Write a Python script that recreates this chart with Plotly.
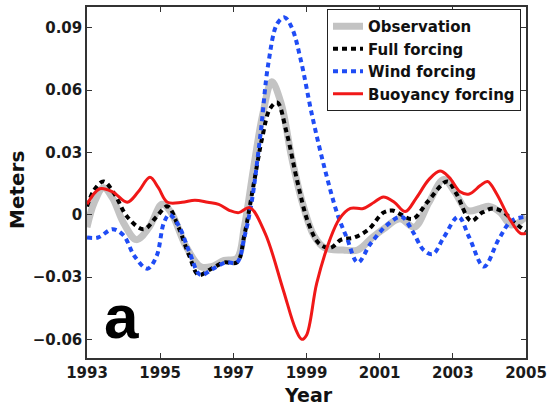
import plotly.graph_objects as go

# Sea level anomaly (m), 1993-2005
obs_year = [1993.0, 1993.2, 1993.45, 1993.7, 1994.0, 1994.35, 1994.7, 1995.05, 1995.3,
            1995.7, 1996.1, 1996.4, 1996.75, 1997.1, 1997.3, 1997.55, 1997.8, 1998.05,
            1998.3, 1998.6, 1998.9, 1999.2, 1999.5, 2000.0, 2000.4, 2000.8, 2001.1,
            2001.55, 2001.95, 2002.35, 2002.75, 2003.05, 2003.4, 2003.75, 2004.0,
            2004.3, 2004.6, 2005.0]
obs_val = [-0.006, 0.006, 0.013, 0.008, -0.004, -0.012, -0.006, 0.005, 0.001,
           -0.015, -0.025, -0.025, -0.022, -0.021, -0.006, 0.022, 0.048, 0.064,
           0.054, 0.027, 0.005, -0.010, -0.016, -0.017, -0.017, -0.011, -0.007,
           -0.002, -0.006, 0.006, 0.017, 0.011, 0.002, 0.003, 0.004,
           0.001, -0.005, -0.001]

full_year = [1993.0, 1993.2, 1993.45, 1993.75, 1994.1, 1994.55, 1994.9, 1995.2, 1995.5,
             1995.8, 1996.05, 1996.4, 1996.75, 1997.1, 1997.3, 1997.55, 1997.8, 1998.0,
             1998.2, 1998.45, 1998.75, 1999.05, 1999.35, 1999.65, 1999.95, 2000.3,
             2000.7, 2001.1, 2001.35, 2001.9, 2002.3, 2002.85, 2003.1, 2003.5, 2003.8,
             2004.1, 2004.4, 2004.7, 2005.0]
full_val = [0.004, 0.012, 0.016, 0.010, -0.001, -0.007, -0.001, 0.004, -0.006,
            -0.020, -0.029, -0.026, -0.023, -0.023, -0.010, 0.014, 0.038, 0.051,
            0.054, 0.040, 0.016, -0.004, -0.014, -0.016, -0.012, -0.011,
            -0.007, 0.001, 0.002, -0.002, 0.006, 0.016, 0.010, -0.003, 0.001,
            0.003, 0.001, -0.004, -0.008]

wind_year = [1993.0, 1993.3, 1993.7, 1994.0, 1994.3, 1994.65, 1994.9, 1995.1, 1995.25,
             1995.5, 1995.8, 1996.1, 1996.45, 1996.8, 1997.1, 1997.3, 1997.5, 1997.75,
             1997.95, 1998.2, 1998.4, 1998.6, 1998.85, 1999.15, 1999.5, 1999.85,
             2000.1, 2000.4, 2000.75, 2001.2, 2001.6, 2001.9, 2002.2, 2002.45,
             2002.75, 2003.15, 2003.45, 2003.85, 2004.25, 2004.6, 2005.0]
wind_val = [-0.011, -0.011, -0.007, -0.010, -0.020, -0.026, -0.020, -0.004, 0.000,
            -0.005, -0.018, -0.029, -0.026, -0.023, -0.023, -0.011, 0.006, 0.040,
            0.072, 0.092, 0.095, 0.090, 0.074, 0.048, 0.022, 0.000,
            -0.011, -0.023, -0.014, -0.005, -0.001, -0.008, -0.017, -0.019,
            -0.011, -0.001, -0.011, -0.025, -0.012, -0.003, -0.001]

buoy_year = [1993.0, 1993.35, 1993.7, 1994.1, 1994.4, 1994.72, 1994.95, 1995.2, 1995.6,
             1995.95, 1996.3, 1996.6, 1996.9, 1997.15, 1997.45, 1997.87, 1998.36,
             1998.7, 1998.87, 1999.0, 1999.28, 1999.64, 1999.9, 2000.2, 2000.55,
             2000.85, 2001.1, 2001.4, 2001.7, 2002.0, 2002.35, 2002.65, 2002.9,
             2003.2, 2003.45, 2003.75, 2003.95, 2004.2, 2004.55, 2004.85, 2005.0]
buoy_val = [0.005, 0.0125, 0.011, 0.006, 0.011, 0.018, 0.013, 0.006, 0.006,
            0.007, 0.006, 0.005, 0.002, 0.001, 0.0034, -0.009, -0.036,
            -0.055, -0.060, -0.058, -0.033, -0.012, -0.002, 0.003, 0.003,
            0.006, 0.0085, 0.006, 0.0015, 0.008, 0.017, 0.021, 0.018,
            0.011, 0.010, 0.014, 0.016, 0.010, -0.002, -0.009, -0.009]

x_ticks = [1993, 1995, 1997, 1999, 2001, 2003, 2005]
x_tick_text = ["1993", "1995", "1997", "1999", "2001", "2003", "2005"]
y_ticks = [-0.06, -0.03, 0, 0.03, 0.06, 0.09]
y_tick_text = ["\u22120.06", "\u22120.03", "0", "0.03", "0.06", "0.09"]

FONT = "DejaVu Sans"
W, H = 548, 408
ML, MR, MT, MB = 87, 22, 7, 50
PW, PH = W - ML - MR, H - MT - MB

fig = go.Figure()
fig.add_trace(go.Scatter(x=obs_year, y=obs_val, name="Observation", mode="lines",
                         line=dict(color="#c3c3c3", width=7, shape="spline", smoothing=1)))
fig.add_trace(go.Scatter(x=full_year, y=full_val, name="Full forcing", mode="lines",
                         line=dict(color="#000000", width=4, dash="5px,4px",
                                   shape="spline", smoothing=1)))
fig.add_trace(go.Scatter(x=wind_year, y=wind_val, name="Wind forcing", mode="lines",
                         line=dict(color="#1f4cf5", width=4, dash="5px,4px",
                                   shape="spline", smoothing=1)))
fig.add_trace(go.Scatter(x=buoy_year, y=buoy_val, name="Buoyancy forcing", mode="lines",
                         line=dict(color="#f01818", width=3, shape="spline", smoothing=1)))

axis_common = dict(
    showline=True, linecolor="#333333", linewidth=1.5, mirror="allticks",
    ticks="inside", ticklen=5, tickwidth=1, tickcolor="#333333",
    showgrid=False, zeroline=False, automargin=False,
    tickfont=dict(family=FONT, size=15, color="#1a1a1a", weight="bold"),
)

fig.update_xaxes(range=[1993, 2005], tickvals=x_ticks, ticktext=x_tick_text,
                 **axis_common)
fig.update_yaxes(range=[-0.069, 0.1], tickvals=y_ticks, ticktext=y_tick_text,
                 **axis_common)


def px_to_paper(px, py):
    return (px - ML) / PW, (H - MB - py) / PH


title_font = dict(family=FONT, size=19, color="#111111", weight="bold")

# Axis titles
xx, xy = px_to_paper(308, 395)
fig.add_annotation(text="Year", xref="paper", yref="paper", x=xx, y=xy,
                   showarrow=False, xanchor="center", yanchor="middle", font=title_font)
yx, yy = px_to_paper(17, 190)
fig.add_annotation(text="Meters", xref="paper", yref="paper", x=yx, y=yy, textangle=-90,
                   showarrow=False, xanchor="center", yanchor="middle",
                   font=dict(title_font, size=20))

# Panel label
ax_, ay_ = px_to_paper(121, 316)
fig.add_annotation(text="a", xref="paper", yref="paper", x=ax_, y=ay_,
                   showarrow=False, xanchor="center", yanchor="middle",
                   font=dict(family="Liberation Sans", size=62, color="#000000",
                             weight="bold"))

lx, ly = px_to_paper(521, 9)
fig.update_layout(
    width=W, height=H,
    margin=dict(l=ML, r=MR, t=MT, b=MB),
    paper_bgcolor="white", plot_bgcolor="white",
    legend=dict(x=lx, y=ly, xanchor="right", yanchor="top",
                bgcolor="white", bordercolor="#222222", borderwidth=1,
                font=dict(family=FONT, size=15, color="#111111", weight="bold"),
                tracegroupgap=0, itemwidth=30),
    showlegend=True,
)

fig.write_html("out.html")
